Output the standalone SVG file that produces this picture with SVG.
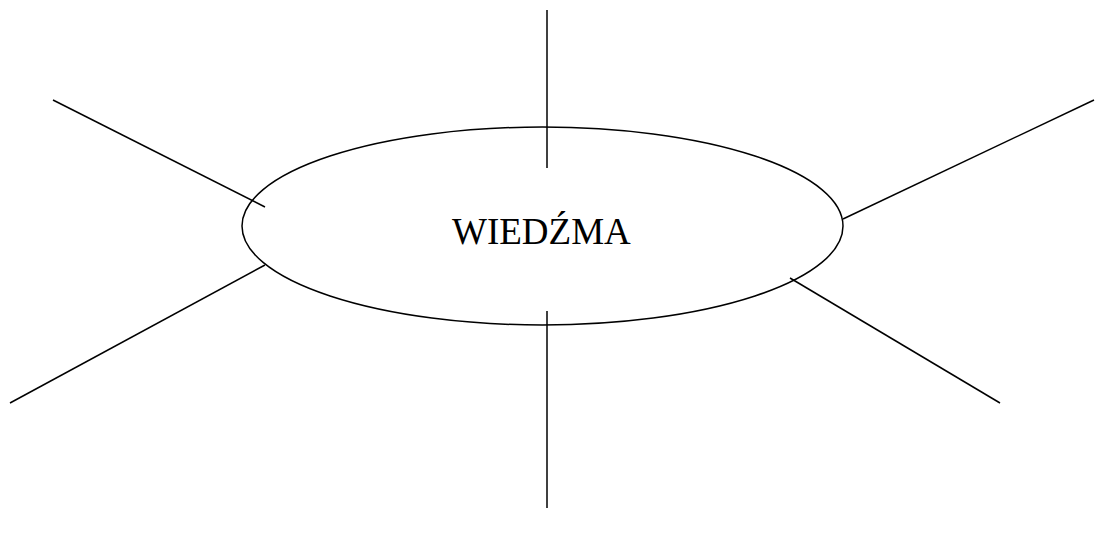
<svg xmlns="http://www.w3.org/2000/svg" width="1103" height="535" viewBox="0 0 1103 535">
<style>
.ln{stroke:#000;stroke-width:1.5;fill:none}
.lbl{font-family:"Liberation Serif","Times New Roman",serif;font-size:37px;fill:#000}
</style>
<rect width="1103" height="535" fill="#fff"/>
<g id="connectors">
<line class="ln" x1="547" y1="10" x2="547" y2="168"/>
<line class="ln" x1="547" y1="311" x2="547" y2="508"/>
<line class="ln" x1="53" y1="100" x2="265" y2="207"/>
<line class="ln" x1="10" y1="403" x2="265" y2="265"/>
<line class="ln" x1="843" y1="219" x2="1094" y2="100"/>
<line class="ln" x1="790" y1="278" x2="1000" y2="403"/>
</g>
<g id="node-wiedzma">
<ellipse class="ln" cx="542.5" cy="226" rx="300.5" ry="99"/>
<text class="lbl" x="452" y="244">WIEDŹMA</text>
</g>
</svg>
